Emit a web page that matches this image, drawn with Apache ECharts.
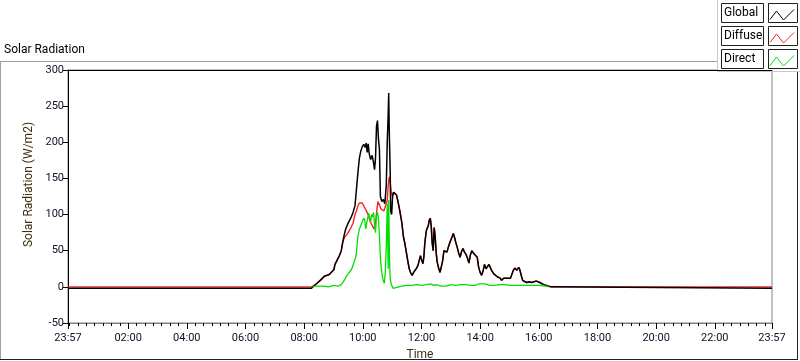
<!DOCTYPE html>
<html>
<head>
<meta charset="utf-8">
<script src="https://cdn.jsdelivr.net/npm/echarts@6/dist/echarts.min.js"></script>
<style>
  html, body { margin: 0; padding: 0; background: #ffffff; }
  #main { width: 800px; height: 361px; }
</style>
</head>
<body>
<div id="main"></div>
<script>
/* data: time in minutes after midnight (start is 23:57 of the day before) */
var seriesNames = ['Global', 'Diffuse', 'Direct'];
var seriesColors = ['#000000', '#ff2020', '#00e000'];

var globalTimes = [-3, 495, 497, 503, 510, 516, 522, 528, 533, 537, 541, 543, 546, 549, 552, 556, 559, 562, 565, 568, 572, 576,
  580, 584, 587, 590, 593, 596, 599, 602, 605, 607, 609, 611, 613, 616, 619, 622, 624, 626, 628, 630, 632, 634, 636, 639,
  642, 645, 648, 650, 652, 653, 654, 656, 657, 659, 661, 663, 666, 669, 672, 676, 680, 683, 686, 689, 692, 695, 698, 701,
  704, 707, 710, 713, 716, 718, 720, 723, 725, 727, 730, 732, 734, 736, 738, 740, 742, 744, 746, 748, 750, 752, 755, 758,
  760, 763, 766, 769, 772, 775, 779, 782, 785, 787, 790, 793, 796, 799, 802, 805, 808, 811, 814, 817, 820, 823, 826, 830,
  834, 837, 840, 843, 846, 849, 852, 855, 858, 861, 864, 868, 871, 875, 878, 881, 884, 888, 891, 895, 898, 902, 905, 908,
  911, 913, 915, 917, 919, 921, 924, 927, 930, 935, 940, 945, 950, 955, 958, 962, 966, 970, 975, 980, 985, 988, 1437];
var globalValues = [-2, -2, 0, 3, 7, 11, 15, 16, 18, 19, 24, 31, 35, 39, 43, 50, 62, 72, 80, 85, 91, 96,
  103, 112, 135, 158, 178, 188, 194, 197, 193, 199, 186, 198, 185, 176, 182, 172, 162, 178, 222, 230, 205, 190, 125, 118,
  121, 115, 140, 200, 240, 268, 220, 160, 105, 100, 125, 131, 130, 127, 118, 104, 88, 70, 60, 48, 36, 25, 19, 16,
  20, 23, 26, 30, 38, 43, 38, 32, 42, 62, 78, 80, 85, 92, 95, 84, 60, 50, 82, 70, 48, 35, 26, 20,
  18, 35, 50, 52, 48, 55, 63, 68, 74, 70, 62, 55, 47, 41, 49, 53, 48, 45, 40, 33, 44, 50, 47, 48,
  41, 27, 20, 16, 22, 31, 25, 26, 31, 30, 22, 18, 16, 14, 13, 12, 9, 12, 11, 12, 11, 12, 14, 23,
  26, 28, 23, 25, 27, 24, 16, 9, 8, 6, 7, 6, 7, 8, 6, 6, 4, 3, 2, 1, 0, -2, -2];

/* diffuse follows global except between 09:20 and 11:02 */
var diffuseTimes = [562, 565, 568, 572, 576, 580, 584, 587, 590, 593, 596, 599, 602, 605, 608, 611, 614, 617, 620, 623,
  625, 627, 629, 631, 633, 635, 637, 640, 643, 646, 648, 650, 652, 654, 656, 658, 660, 662];
var diffuseValues = [68, 70, 73, 75, 82, 88, 100, 105, 112, 116, 118, 116, 112, 108, 104, 100, 93, 88, 84, 80,
  85, 95, 108, 118, 117, 112, 108, 107, 105, 107, 115, 120, 140, 152, 145, 132, 126, 128];
var diffuseNight = 0;

var directTimes = [497, 505, 520, 530, 540, 550, 556, 560, 563, 566, 570, 573, 577, 580, 583, 586, 588, 590, 593, 596,
  599, 602, 604, 606, 608, 610, 612, 614, 616, 618, 620, 622, 624, 626, 628, 630, 632, 634, 636, 638, 640, 642, 644,
  646, 648, 650, 651, 652, 653, 654, 655, 656, 658, 660, 662, 665, 668, 672, 680, 690, 700, 710, 720, 730, 740, 745,
  750, 760, 770, 780, 790, 800, 810, 820, 830, 836, 840, 850, 860, 870, 880, 890, 900, 920, 940, 960, 975, 980];
var directValues = [0, 1, 1, 0, 2, 1, 3, 4, 10, 14, 18, 20, 24, 30, 36, 42, 55, 70, 80, 85,
  90, 95, 92, 80, 88, 95, 102, 96, 90, 100, 97, 103, 85, 75, 98, 103, 95, 70, 40, 25, 15, 8, 5,
  20, 55, 115, 60, 25, 120, 70, 30, 12, 4, 1, -2, -3, -1, 0, 1, 2, 2, 3, 2, 3, 4, 2,
  3, 1, 1, 3, 2, 3, 3, 2, 2, 4, 2, 4, 2, 2, 3, 3, 2, 2, 2, 2, 1, 0];

var xMajorTicks = [-3, 120, 240, 360, 480, 600, 720, 840, 960, 1080, 1200, 1320, 1437];

function pairs(ts, vs) {
  var out = [];
  for (var i = 0; i < ts.length; i++) out.push([ts[i], vs[i]]);
  return out;
}

var globalData = pairs(globalTimes, globalValues);
var diffuseData = [];
var dFirst = diffuseTimes[0], dLast = diffuseTimes[diffuseTimes.length - 1];
globalData.forEach(function (p) {
  if (p[0] < dFirst) diffuseData.push([p[0], p[1] < 0 ? diffuseNight : p[1]]);
});
diffuseData = diffuseData.concat(pairs(diffuseTimes, diffuseValues));
globalData.forEach(function (p) {
  if (p[0] > dLast) diffuseData.push([p[0], p[1] < 0 ? diffuseNight : p[1]]);
});
var directData = pairs(directTimes, directValues);

var xMinorTicks = [];
for (var k = 0; k <= 84; k++) {
  var t = k * 120 / 7;
  if (t > -3 && t < 1437) xMinorTicks.push(t);
}

function timeLabel(v) {
  if (v < 0 || v >= 1437) return '23:57';
  var h = Math.floor(v / 60), m = Math.round(v % 60);
  return (h < 10 ? '0' : '') + h + ':' + (m < 10 ? '0' : '') + m;
}

var chartDom = document.getElementById('main');
var myChart = echarts.init(chartDom);
var font = 'Roboto';

var legendItems = [];
seriesNames.forEach(function (name, i) {
  var y0 = 3 + 23 * i;
  legendItems.push({
    type: 'rect', shape: { x: 721.5, y: y0 + 0.5, width: 42, height: 19 },
    style: { fill: '#ffffff', stroke: '#202020', lineWidth: 1 }
  });
  legendItems.push({
    type: 'text', x: 724, y: y0 + 10,
    style: { text: name, font: '12px ' + font, fill: '#000000', verticalAlign: 'middle' }
  });
  legendItems.push({
    type: 'rect', shape: { x: 768.5, y: y0 + 0.5, width: 29, height: 19 },
    style: { fill: '#ffffff', stroke: '#202020', lineWidth: 1 }
  });
  legendItems.push({
    type: 'polyline',
    shape: { points: [[770, y0 + 16.5], [776.5, y0 + 8], [783.5, y0 + 17], [794, y0 + 6.5]] },
    style: { stroke: seriesColors[i], lineWidth: 1, fill: null }
  });
});

var option = {
  backgroundColor: '#ffffff',
  animation: false,
  textStyle: { fontFamily: font },
  grid: {
    left: 68, right: 28, top: 70, bottom: 38, outerBoundsMode: 'none',
    show: true, borderColor: '#808080', borderWidth: 1, backgroundColor: '#ffffff'
  },
  xAxis: [
    {
      type: 'value', position: 'bottom', min: -3, max: 1437,
      name: 'Time', nameLocation: 'middle', nameGap: 26,
      nameTextStyle: { color: '#3c2e10', fontSize: 12, fontFamily: font },
      axisLine: { show: true, onZero: false, lineStyle: { color: '#808080', width: 1 } },
      axisTick: { show: true, customValues: xMajorTicks, length: 6, lineStyle: { color: '#000000' } },
      axisLabel: {
        show: true, customValues: xMajorTicks, formatter: timeLabel, margin: 10,
        color: '#101028', fontSize: 11, fontFamily: font, showMinLabel: true, showMaxLabel: true
      },
      splitLine: { show: false }
    },
    {
      type: 'value', position: 'bottom', min: -3, max: 1437,
      axisLine: { show: false, onZero: false },
      axisTick: { show: true, customValues: xMinorTicks, length: 3, lineStyle: { color: '#000000' } },
      axisLabel: { show: false },
      splitLine: { show: false }
    },
    {
      type: 'value', position: 'top', min: -3, max: 1437,
      axisLine: { show: true, onZero: false, lineStyle: { color: '#000000', width: 1 } },
      axisTick: { show: false },
      axisLabel: { show: false },
      splitLine: { show: false }
    }
  ],
  yAxis: {
    type: 'value', min: -50, max: 300, interval: 50,
    name: 'Solar Radiation (W/m2)', nameLocation: 'middle', nameGap: 32,
    nameTextStyle: { color: '#3c2e10', fontSize: 12, fontFamily: font, padding: [0, 0, 0, 24] },
    axisLine: { show: true, onZero: false, lineStyle: { color: '#000000', width: 1 } },
    axisTick: { show: true, length: 5, lineStyle: { color: '#000000' } },
    axisLabel: { color: '#101028', fontSize: 11, fontFamily: font, margin: 4 },
    splitLine: { show: false }
  },
  series: [
    {
      name: 'Diffuse', type: 'line', xAxisIndex: 0, data: diffuseData, showSymbol: false,
      lineStyle: { color: seriesColors[1], width: 1.4 }, itemStyle: { color: seriesColors[1] }, z: 2
    },
    {
      name: 'Global', type: 'line', xAxisIndex: 0, data: globalData, showSymbol: false,
      lineStyle: { color: seriesColors[0], width: 1.5 }, itemStyle: { color: seriesColors[0] }, z: 3
    },
    {
      name: 'Direct', type: 'line', xAxisIndex: 0, data: directData, showSymbol: false,
      lineStyle: { color: seriesColors[2], width: 1.3 }, itemStyle: { color: seriesColors[2] }, z: 4
    }
  ],
  graphic: [
    {
      type: 'text', left: 4, top: 44,
      style: { text: 'Solar Radiation', font: '12px ' + font, fill: '#000000' }
    },
    { type: 'line', shape: { x1: 0, y1: 61.5, x2: 717, y2: 61.5 }, style: { stroke: '#a0a0a0', lineWidth: 1 } },
    { type: 'line', shape: { x1: 0.5, y1: 61, x2: 0.5, y2: 360 }, style: { stroke: '#a0a0a0', lineWidth: 1 } },
    { type: 'line', shape: { x1: 0, y1: 359.5, x2: 798, y2: 359.5 }, style: { stroke: '#202020', lineWidth: 1 } },
    { type: 'line', shape: { x1: 797.5, y1: 72, x2: 797.5, y2: 360 }, style: { stroke: '#202020', lineWidth: 1 } },
    {
      type: 'group', z: 100,
      children: [
        { type: 'rect', shape: { x: 717, y: 0, width: 83, height: 72 }, style: { fill: '#ffffff' } },
        { type: 'line', shape: { x1: 717.5, y1: 0, x2: 717.5, y2: 72 }, style: { stroke: '#c8c8c8', lineWidth: 1 } },
        { type: 'line', shape: { x1: 717, y1: 71.5, x2: 800, y2: 71.5 }, style: { stroke: '#c8c8c8', lineWidth: 1 } }
      ].concat(legendItems)
    }
  ]
};

option && myChart.setOption(option);

window.onresize = function () {
  myChart.resize();
};
</script>
</body>
</html>
